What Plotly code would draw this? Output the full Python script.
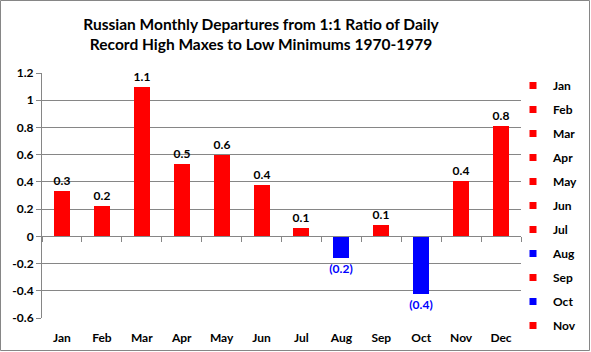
import plotly.graph_objects as go

months = ["Jan", "Feb", "Mar", "Apr", "May", "Jun", "Jul", "Aug", "Sep", "Oct", "Nov", "Dec"]
values = [0.33, 0.22, 1.10, 0.53, 0.60, 0.38, 0.06, -0.16, 0.08, -0.42, 0.41, 0.81]
y_ticks = [-0.6, -0.4, -0.2, 0, 0.2, 0.4, 0.6, 0.8, 1, 1.2]
title_lines = ["Russian Monthly Departures from 1:1 Ratio of Daily",
               "Record High Maxes to Low Minimums 1970-1979"]

FONT = "Lato"
W, H = 591, 352
ML, MR, MT, MB = 42, 70, 73, 34
PW, PH = W - ML - MR, H - MT - MB

fig = go.Figure()
for m, v in zip(months, values):
    neg = v < 0
    col = "#0000FF" if neg else "#FF0000"
    lab = f"({abs(v):.1f})" if neg else f"{v:.1f}"
    fig.add_trace(go.Bar(
        x=[m], y=[v], name=m, width=0.4, legendgroup=m, showlegend=False,
        marker=dict(color=col, line=dict(width=0)),
        text=[lab], textposition="outside", cliponaxis=False, constraintext="none",
        textfont=dict(family=FONT, size=12, color="#0000FF" if neg else "#000000", weight="bold"),
    ))
    if m != "Dec":
        fig.add_trace(go.Scatter(
            x=[None], y=[None], name=m, legendgroup=m, mode="markers",
            marker=dict(symbol="square", size=7, color=col), hoverinfo="skip",
        ))

# invisible trace to drive the zero-line axis ticks
fig.add_trace(go.Scatter(x=months, y=[0]*len(months), xaxis="x2", mode="markers",
                         marker=dict(opacity=0), showlegend=False, hoverinfo="skip"))

fig.update_layout(
    width=W, height=H,
    margin=dict(l=ML, r=MR, t=MT, b=MB, autoexpand=False),
    paper_bgcolor="white", plot_bgcolor="white",
    barmode="overlay", bargap=0,
    title=dict(text="<br>".join(title_lines), x=261/W, xanchor="center", y=1 - 30/H, yanchor="middle",
               font=dict(family=FONT, size=15.5, color="#000000", weight="bold")),
    xaxis=dict(categoryorder="array", categoryarray=months, showline=False,
               ticks="outside", ticklen=9, tickcolor="rgba(0,0,0,0)",
               tickfont=dict(family=FONT, size=12, color="#000000", weight="bold"),
               showgrid=False, zeroline=False, range=[-0.5, 11.5], fixedrange=True),
    xaxis2=dict(overlaying="x", matches="x", anchor="free", position=1/3, showline=True,
                linecolor="#868686", linewidth=1, ticks="outside", ticklen=5, tickcolor="#868686",
                tickson="boundaries", showticklabels=False, showgrid=False, zeroline=False,
                categoryorder="array", categoryarray=months),
    yaxis=dict(range=[-0.6, 1.2], tickvals=y_ticks, ticktext=[f"{t:g}" for t in y_ticks],
               showgrid=True, gridcolor="#868686", gridwidth=1, zeroline=False,
               showline=True, linecolor="#868686", linewidth=1, ticks="outside", ticklen=5,
               tickcolor="#868686",
               tickfont=dict(family=FONT, size=12, color="#000000", weight="bold")),
    legend=dict(x=471/PW, xanchor="left", yref="container", y=1 - 71/H, yanchor="top",
                maxheight=340,
                font=dict(family=FONT, size=12, color="#000000", weight="bold"),
                tracegroupgap=5, itemwidth=30, bgcolor="rgba(0,0,0,0)"),
    shapes=[dict(type="rect", xref="paper", yref="paper",
                 x0=-(ML - 0.5)/PW, x1=(W - ML - 1.5)/PW,
                 y0=-(MB - 1.5)/PH, y1=(H - MB - 0.5)/PH,
                 line=dict(color="#868686", width=1), fillcolor="rgba(0,0,0,0)", layer="above")],
)

fig.write_html("out.html")
